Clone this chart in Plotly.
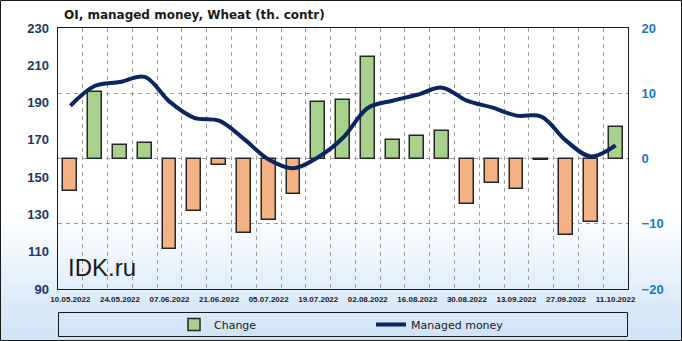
import plotly.graph_objects as go

dates = ["10.05.2022", "17.05.2022", "24.05.2022", "31.05.2022", "07.06.2022", "14.06.2022",
         "21.06.2022", "28.06.2022", "05.07.2022", "12.07.2022", "19.07.2022", "26.07.2022",
         "02.08.2022", "09.08.2022", "16.08.2022", "23.08.2022", "30.08.2022", "06.09.2022",
         "13.09.2022", "20.09.2022", "27.09.2022", "04.10.2022", "11.10.2022"]
change = [-5.0, 10.2, 2.0, 2.3, -13.9, -8.1, -1.0, -11.4, -9.5, -5.5, 8.6, 9.0,
          15.6, 2.9, 3.4, 4.2, -6.9, -3.8, -4.6, -0.2, -11.7, -9.7, 4.9]
managed = [188.3, 199.0, 201.0, 203.8, 190.5, 181.8, 180.3, 170.5, 159.5, 154.8, 160.7, 171.1,
           187.1, 191.0, 194.2, 198.0, 191.0, 187.4, 183.0, 182.5, 169.6, 161.1, 167.0]
tick_labels = dates[::2]
left_ticks = [90, 110, 130, 150, 170, 190, 210, 230]
right_ticks = [-20, -10, 0, 10, 20]

W, H = 682, 341
L, R, T, B = 58, 628, 28, 289
pw, ph = R - L, B - T


def px(x):
    return (x - L) / pw


def py(y):
    return (B - y) / ph


xs = list(range(len(dates)))
pos = [v if v >= 0 else None for v in change]
neg = [v if v < 0 else None for v in change]

fig = go.Figure()
fig.add_trace(go.Bar(x=xs, y=pos, name="Change", width=0.56, legend="legend",
                     marker=dict(color="#A9D18E", line=dict(color="#262626", width=1.5))))
fig.add_trace(go.Bar(x=xs, y=neg, name="Change", width=0.56, showlegend=False,
                     marker=dict(color="#F4B183", line=dict(color="#262626", width=1.5))))
fig.add_trace(go.Scatter(x=xs, y=managed, name="Managed money", yaxis="y2", mode="lines",
                         legend="legend2",
                         line=dict(color="#0B2560", width=4, shape="spline", smoothing=1.0)))

shapes = []
# background gradient
top_c = (255, 255, 255)
bot_c = (205, 226, 247)
g0, g1 = 210, 341
n = 26
for i in range(n):
    y0 = g0 + (g1 - g0) * i / n
    y1 = g0 + (g1 - g0) * (i + 1) / n
    t = (i + 0.5) / n
    c = tuple(int(round(top_c[k] + (bot_c[k] - top_c[k]) * t)) for k in range(3))
    shapes.append(dict(type="rect", xref="paper", yref="paper", layer="below",
                       x0=px(0), x1=px(W), y0=py(y1 + 0.5), y1=py(y0),
                       fillcolor="rgb(%d,%d,%d)" % c, line=dict(width=0)))
# legend box
shapes.append(dict(type="rect", xref="paper", yref="paper", layer="above",
                   x0=px(58.5), x1=px(627.5), y0=py(336.5), y1=py(312.5),
                   line=dict(color="#1a1a1a", width=1), fillcolor="rgba(0,0,0,0)"))
# outer border
shapes.append(dict(type="rect", xref="paper", yref="paper", layer="above",
                   x0=px(0.5), x1=px(681.5), y0=py(340.5), y1=py(0.5),
                   line=dict(color="#1a1a1a", width=1), fillcolor="rgba(0,0,0,0)"))

grid = "#9C9C9C"
gdash = "4px,4px"
fig.update_layout(
    width=W, height=H,
    margin=dict(l=L, r=W - R, t=T, b=H - B, pad=0, autoexpand=False),
    paper_bgcolor="white", plot_bgcolor="rgba(0,0,0,0)",
    barmode="overlay", bargap=0,
    shapes=shapes,
    xaxis=dict(range=[-0.5, len(dates) - 0.5], tickmode="array",
               tickvals=[dates.index(d) for d in tick_labels], ticktext=tick_labels,
               tickfont=dict(family="Liberation Sans", size=8, color="#1a1a1a", weight="bold"),
               showgrid=False, ticks="", showline=True, mirror=True, linecolor="#1a1a1a", linewidth=1,
               zeroline=False, fixedrange=True, automargin=False, ticklabelstandoff=2,
               minor=dict(tick0=0.5, dtick=1, showgrid=True, gridcolor=grid,
                          griddash=gdash, gridwidth=1)),
    yaxis=dict(side="right", range=[-20, 20], tickmode="array", tickvals=right_ticks,
               tickfont=dict(family="Liberation Sans", size=13, color="#1878C8", weight="bold"),
               showgrid=True, gridcolor=grid, griddash=gdash, gridwidth=1,
               zeroline=False, showline=True, mirror=True, linecolor="#1a1a1a", linewidth=1,
               ticks="", ticklabelstandoff=10, automargin=False),
    yaxis2=dict(overlaying="y", side="left", range=[90, 230], tickmode="array", tickvals=left_ticks,
                tickfont=dict(family="Liberation Sans", size=13, color="#1B3768", weight="bold"),
                showgrid=False, zeroline=False, showline=False, ticks="", ticklabelstandoff=8,
                automargin=False),
    legend=dict(x=px(174), y=py(324.5), xanchor="left", yanchor="middle", orientation="h",
                bgcolor="rgba(0,0,0,0)", borderwidth=0,
                font=dict(family="DejaVu Sans", size=11, color="#1a1a1a")),
    legend2=dict(x=px(371), y=py(324.5), xanchor="left", yanchor="middle", orientation="h",
                 bgcolor="rgba(0,0,0,0)", borderwidth=0,
                 font=dict(family="DejaVu Sans", size=11, color="#1a1a1a")),
    annotations=[
        dict(text="OI, managed money, Wheat (th. contr)", xref="paper", yref="paper",
             x=px(62), y=py(15), xanchor="left", yanchor="middle", showarrow=False,
             font=dict(family="DejaVu Sans", size=12, color="#1a1a1a", weight="bold")),
        dict(text="IDK.ru", xref="paper", yref="paper", x=px(66), y=py(267),
             xanchor="left", yanchor="middle", showarrow=False,
             font=dict(family="Liberation Sans", size=24, color="#1a1a1a")),
    ],
)

fig.write_html("out.html")
